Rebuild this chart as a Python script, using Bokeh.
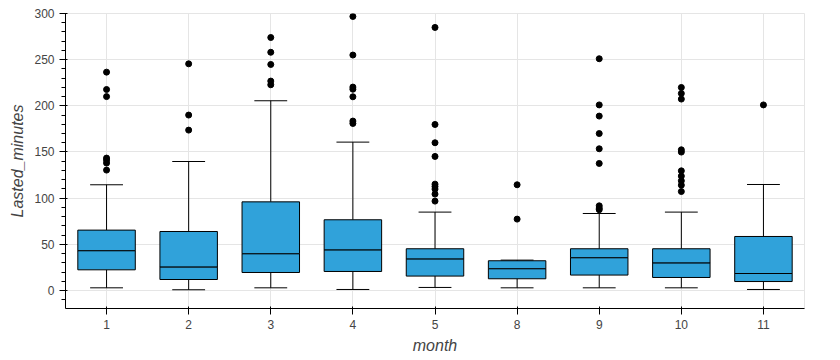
from bokeh.plotting import figure
from bokeh.models import ColumnDataSource, Range1d, FactorRange
from bokeh.embed import file_html
from bokeh.resources import INLINE

months = ["1", "2", "3", "4", "5", "8", "9", "10", "11"]
q1 = [22.4, 11.9, 19.5, 20.6, 15.6, 12.7, 16.7, 14.1, 9.7]
median = [43.0, 25.3, 39.7, 43.8, 34.0, 23.5, 35.4, 29.7, 18.4]
q3 = [65.4, 63.9, 96.0, 76.6, 45.2, 32.2, 45.2, 45.2, 58.5]
lower = [2.9, 0.8, 2.9, 1.1, 3.3, 2.9, 2.9, 2.9, 1.1]
upper = [114.5, 139.7, 205.5, 160.7, 84.9, 32.9, 83.4, 84.9, 114.8]

outliers = {
    "1": [236.5, 217.7, 210.0, 143.4, 141.2, 138.0, 130.4],
    "2": [245.5, 190.0, 173.7],
    "3": [274.0, 258.0, 244.8, 226.8, 222.8],
    "4": [296.8, 255.0, 220.3, 218.0, 209.8, 183.5, 180.9],
    "5": [284.9, 179.8, 160.0, 145.2, 115.2, 112.6, 109.8, 104.4, 96.8],
    "8": [114.5, 77.3],
    "9": [251.0, 201.0, 188.9, 170.0, 153.5, 137.6, 91.7, 89.2, 87.5],
    "10": [219.9, 213.4, 207.3, 152.4, 149.9, 129.6, 123.9, 118.8, 114.1, 107.2],
    "11": [201.0],
}

box_color = "#30a2da"

p = figure(
    width=809, height=356,
    x_range=FactorRange(*months, range_padding=0),
    y_range=Range1d(-19.5, 300),
    output_backend="svg", toolbar_location=None,
    min_border_left=65, min_border_right=5, min_border_top=13,
    x_axis_label="month", y_axis_label="Lasted_minutes",
)

src = ColumnDataSource(dict(
    x=months, q1=q1, med=median, q3=q3, lo=lower, hi=upper,
    cl0=[(m, -0.2) for m in months], cl1=[(m, 0.2) for m in months],
))

# whiskers
p.segment(x0="x", y0="q3", x1="x", y1="hi", source=src, line_color="black", line_width=1)
p.segment(x0="x", y0="q1", x1="x", y1="lo", source=src, line_color="black", line_width=1)
p.segment(x0="cl0", y0="hi", x1="cl1", y1="hi", source=src, line_color="black", line_width=1)
p.segment(x0="cl0", y0="lo", x1="cl1", y1="lo", source=src, line_color="black", line_width=1)

# boxes
p.vbar(x="x", width=0.7, bottom="med", top="q3", source=src,
       fill_color=box_color, line_color="black", line_width=1)
p.vbar(x="x", width=0.7, bottom="q1", top="med", source=src,
       fill_color=box_color, line_color="black", line_width=1)

ox, oy = [], []
for m in months:
    for v in outliers[m]:
        ox.append(m)
        oy.append(v)
p.scatter(x=ox, y=oy, size=6, color="black")

for ax in (p.xaxis[0], p.yaxis[0]):
    ax.axis_label_text_font_size = "16px"
    ax.axis_label_text_font_style = "italic"
    ax.axis_label_text_color = "#444444"
    ax.major_label_text_font_size = "12px"
    ax.major_label_text_color = "#444444"
    ax.axis_label_text_font = "Liberation Sans"
    ax.major_label_text_font = "Liberation Sans"

p.xgrid.grid_line_color = "#e5e5e5"
p.ygrid.grid_line_color = "#e5e5e5"
p.outline_line_color = "#e5e5e5"

open("out.html", "w").write(file_html(p, INLINE))
